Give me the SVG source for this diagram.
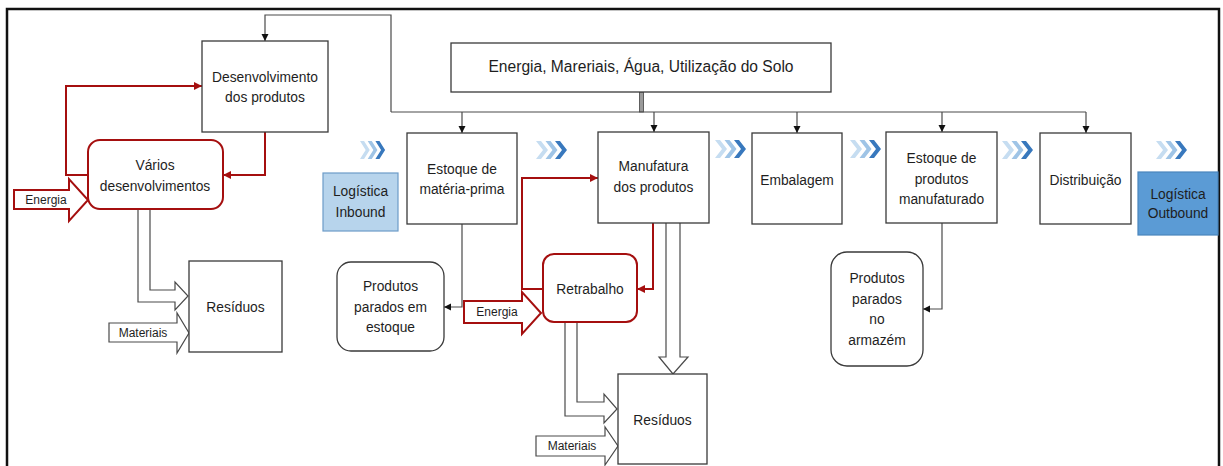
<svg xmlns="http://www.w3.org/2000/svg" width="1223" height="466" viewBox="0 0 1223 466">
  <style>
    .box { fill: #ffffff; stroke: #3a3a3a; stroke-width: 1.3; }
    .rbox { fill: #ffffff; stroke: #a50f0f; stroke-width: 2; }
    .lbl { font-family: "Liberation Sans", Arial, sans-serif; font-size: 13.8px; fill: #1e1e1e; text-anchor: middle; }
    .sm { font-family: "Liberation Sans", Arial, sans-serif; font-size: 12px; fill: #1e1e1e; text-anchor: middle; }
    .big { font-family: "Liberation Sans", Arial, sans-serif; font-size: 15.6px; fill: #1e1e1e; text-anchor: middle; }
    .ln { fill: none; stroke: #4a4a4a; stroke-width: 1.2; }
    .rln { fill: none; stroke: #a50f0f; stroke-width: 2; }
    .hollow { fill: #ffffff; stroke: #4a4a4a; stroke-width: 1.2; }
    .rhollow { fill: #ffffff; stroke: #a50f0f; stroke-width: 2; }
  </style>
  <defs>
    <marker id="arrK" viewBox="0 0 10 10" refX="10" refY="5" markerWidth="7" markerHeight="8" orient="auto" markerUnits="userSpaceOnUse">
      <path d="M0,0 L10,5 L0,10 z" fill="#111111"/>
    </marker>
    <marker id="arrR" viewBox="0 0 10 10" refX="10" refY="5" markerWidth="8" markerHeight="9" orient="auto" markerUnits="userSpaceOnUse">
      <path d="M0,0 L10,5 L0,10 z" fill="#a50f0f"/>
    </marker>
    <!-- triple chevron flow marker, 31 x 18 -->
    <g id="chev">
      <path d="M0,0 h5 l7,9 l-7,9 h-5 l7,-9 z" fill="#c6ddf1"/>
      <path d="M9.5,0 h5 l7,9 l-7,9 h-5 l7,-9 z" fill="#9fc4e6"/>
      <path d="M19,0 h5 l7,9 l-7,9 h-5 l7,-9 z" fill="#3878bd"/>
    </g>
  </defs>

  <rect width="1223" height="466" fill="#ffffff"/>
  <!-- outer frame -->
  <rect x="7" y="9" width="1212" height="470" fill="none" stroke="#111111" stroke-width="2.5"/>

  <!-- flow chevrons -->
  <g id="chevrons">
    <use href="#chev" transform="translate(360,141) scale(0.81,1)"/>
    <use href="#chev" transform="translate(536,141)"/>
    <use href="#chev" transform="translate(715,140)"/>
    <use href="#chev" transform="translate(850,140)"/>
    <use href="#chev" transform="translate(1002,141)"/>
    <use href="#chev" transform="translate(1156,141)"/>
  </g>

  <!-- connectors -->
  <g id="connectors">
    <!-- resource bus -->
    <rect x="639.5" y="92" width="4" height="20" fill="#9a9a9a" stroke="#444444" stroke-width="0.8"/>
    <path class="ln" d="M391,112 H1086"/>
    <path class="ln" d="M391,112 V15 H265 V41" marker-end="url(#arrK)"/>
    <path class="ln" d="M462,112 V133" marker-end="url(#arrK)"/>
    <path class="ln" d="M654,112 V132" marker-end="url(#arrK)"/>
    <path class="ln" d="M797,112 V133" marker-end="url(#arrK)"/>
    <path class="ln" d="M942,112 V132" marker-end="url(#arrK)"/>
    <path class="ln" d="M1086,112 V133" marker-end="url(#arrK)"/>
    <!-- stock outputs -->
    <path class="ln" d="M462,224 V307 H444" marker-end="url(#arrK)"/>
    <path class="ln" d="M942,223 V309 H923" marker-end="url(#arrK)"/>
    <!-- development loop -->
    <path class="rln" d="M88,175 H66 V86 H202" marker-end="url(#arrR)"/>
    <path class="rln" d="M265,132 V175 H223" marker-end="url(#arrR)"/>
    <!-- rework loop -->
    <path class="rln" d="M543,289 H522 V178 H598" marker-end="url(#arrR)"/>
    <path class="rln" d="M653,223 V289 H637" marker-end="url(#arrR)"/>
    <!-- waste block arrows -->
    <path class="hollow" d="M138,209 V302 H175 V310 L188,296 L175,282 V290 H150 V209"/>
    <path class="hollow" d="M666,223 V357 H659 L673,374 L688,357 H680 V223"/>
    <path class="hollow" d="M565,322 V416 H604 V423 L617,409 L604,394 V402 H577 V322"/>
    <!-- input block arrows -->
    <path class="rhollow" d="M14,190 H69 V179 L88,200 L69,221 V209 H14 Z"/>
    <text class="sm" x="46" y="204">Energia</text>
    <path class="hollow" d="M109,323 H177 V313 L189,333 L177,353 V342 H109 Z"/>
    <text class="sm" x="143" y="337">Materiais</text>
    <path class="rhollow" d="M464,301 H522 V292 L541,313 L522,334 V323 H464 Z"/>
    <text class="sm" x="497" y="316">Energia</text>
    <path class="hollow" d="M536,436 H605 V427 L618,446 L605,465 V456 H536 Z"/>
    <text class="sm" x="572" y="450">Materiais</text>
  </g>

  <g id="n-desenvolvimento">
    <rect class="box" x="202" y="41" width="126" height="91"/>
    <text class="lbl" x="265" y="82">Desenvolvimento</text>
    <text class="lbl" x="265" y="102">dos produtos</text>
  </g>

  <g id="n-recursos">
    <rect class="box" x="451" y="43" width="380" height="49"/>
    <text class="big" x="641" y="72">Energia, Mareriais, Água, Utilização do Solo</text>
  </g>

  <g id="n-varios">
    <rect class="rbox" x="88" y="140" width="135" height="69" rx="12"/>
    <text class="lbl" x="155" y="169.5">Vários</text>
    <text class="lbl" x="155" y="190.5">desenvolvimentos</text>
  </g>

  <g id="n-inbound">
    <rect x="323" y="173" width="75" height="58" fill="#b7d4ec" stroke="#6d9cc9" stroke-width="1.2"/>
    <text class="lbl" x="360.5" y="196">Logística</text>
    <text class="lbl" x="360.5" y="216.5">Inbound</text>
  </g>

  <g id="n-materia-prima">
    <rect class="box" x="407" y="133" width="110" height="91"/>
    <text class="lbl" x="462" y="173.5">Estoque de</text>
    <text class="lbl" x="462" y="194">matéria-prima</text>
  </g>

  <g id="n-manufatura">
    <rect class="box" x="598" y="132" width="111" height="91"/>
    <text class="lbl" x="653.5" y="171">Manufatura</text>
    <text class="lbl" x="653.5" y="192">dos produtos</text>
  </g>

  <g id="n-embalagem">
    <rect class="box" x="752" y="133" width="90" height="91"/>
    <text class="lbl" x="797" y="184.5">Embalagem</text>
  </g>

  <g id="n-estoque-produtos">
    <rect class="box" x="886" y="132" width="111" height="91"/>
    <text class="lbl" x="941.5" y="162.5">Estoque de</text>
    <text class="lbl" x="941.5" y="183.5">produtos</text>
    <text class="lbl" x="941.5" y="203.5">manufaturado</text>
  </g>

  <g id="n-distribuicao">
    <rect class="box" x="1040" y="133" width="91" height="91"/>
    <text class="lbl" x="1085.5" y="184.5">Distribuição</text>
  </g>

  <g id="n-outbound">
    <rect x="1138" y="172" width="80" height="63" fill="#5b9bd5" stroke="#4a85bd" stroke-width="1.2"/>
    <text class="lbl" x="1178" y="199">Logística</text>
    <text class="lbl" x="1178" y="218">Outbound</text>
  </g>

  <g id="n-residuos-1">
    <rect class="box" x="189" y="261" width="93" height="91"/>
    <text class="lbl" x="235.5" y="311.5">Resíduos</text>
  </g>

  <g id="n-parados-estoque">
    <rect class="box" x="337" y="262" width="107" height="89" rx="14"/>
    <text class="lbl" x="390.5" y="290.5">Produtos</text>
    <text class="lbl" x="390.5" y="311.5">parados em</text>
    <text class="lbl" x="390.5" y="331.5">estoque</text>
  </g>

  <g id="n-retrabalho">
    <rect class="rbox" x="543" y="254" width="94" height="68" rx="11"/>
    <text class="lbl" x="590" y="293.5">Retrabalho</text>
  </g>

  <g id="n-residuos-2">
    <rect class="box" x="618" y="374" width="89" height="90"/>
    <text class="lbl" x="662.5" y="424.5">Resíduos</text>
  </g>

  <g id="n-parados-armazem">
    <rect class="box" x="831" y="252" width="92" height="114" rx="16"/>
    <text class="lbl" x="877" y="282.5">Produtos</text>
    <text class="lbl" x="877" y="303.5">parados</text>
    <text class="lbl" x="877" y="323.5">no</text>
    <text class="lbl" x="877" y="344.5">armazém</text>
  </g>
</svg>
